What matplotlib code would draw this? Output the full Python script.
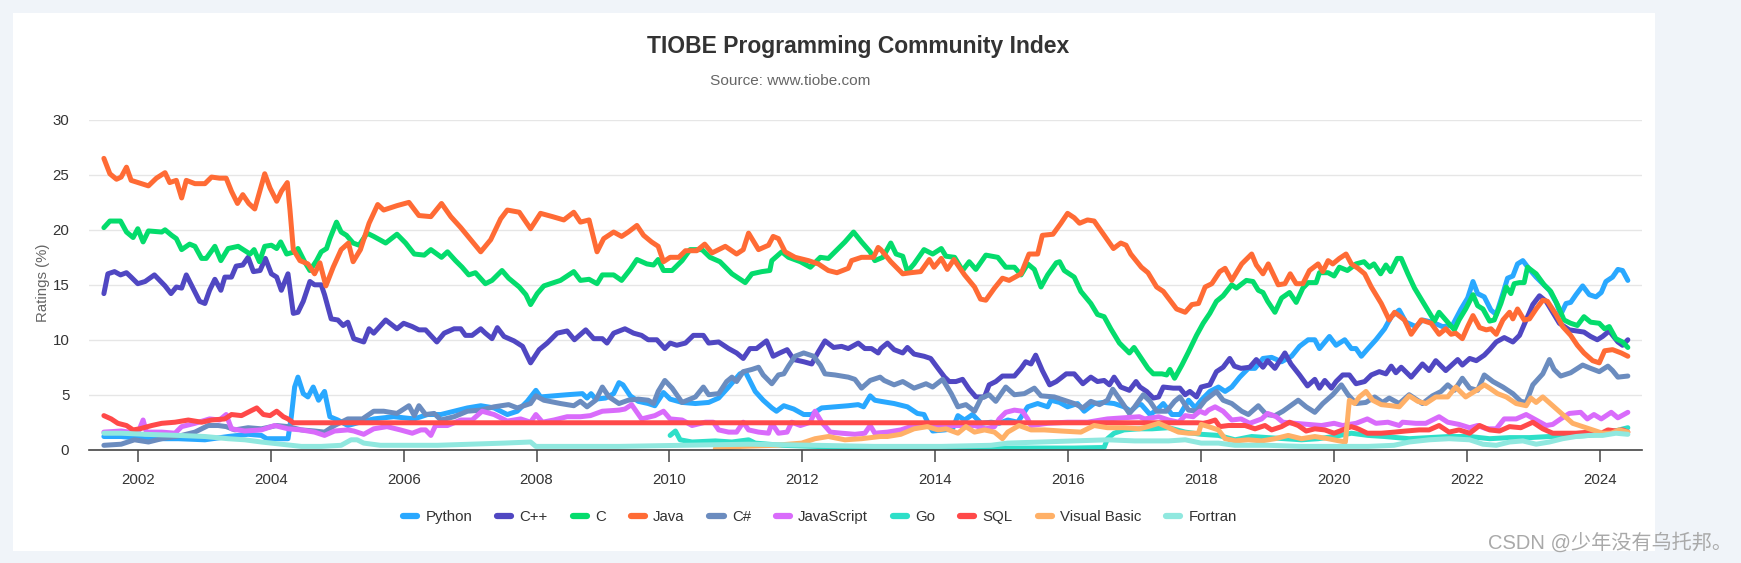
import matplotlib
matplotlib.use("Agg")
import matplotlib.pyplot as plt
from matplotlib.patches import Rectangle
from matplotlib.lines import Line2D

plt.rcParams['font.family'] = ['Liberation Sans', 'Noto Sans CJK SC', 'DejaVu Sans']

# ---------------- data (year, rating %) ----------------
series_names = ["Python", "C++", "C", "Java", "C#", "JavaScript", "Go", "SQL", "Visual Basic", "Fortran"]
series_colors = ["#29a8ff", "#5047c2", "#04dc6c", "#ff6b35", "#6b8cbf", "#d96bfb", "#2edfc8", "#ff4949", "#ffb067", "#90e8df"]

python = [(2001.49,1.2),(2001.75,1.2),(2002.11,1.0),(2002.61,1.0),(2003.01,0.9),(2003.36,1.2),(2003.66,1.4),(2003.86,1.3),(2003.94,1.0),(2004.26,1.0),(2004.31,3.0),(2004.36,5.7),(2004.41,6.6),(2004.49,5.1),(2004.56,4.8),(2004.64,5.7),(2004.72,4.5),(2004.81,5.3),(2004.89,3.0),(2005.01,2.7),(2005.16,2.2),(2005.34,2.5),(2005.55,2.8),(2005.85,3.0),(2006.16,2.8),(2006.36,3.2),(2006.56,3.2),(2006.76,3.5),(2006.96,3.8),(2007.16,4.0),(2007.36,3.8),(2007.56,3.2),(2007.71,3.5),(2007.86,4.4),(2007.99,5.4),(2008.06,4.8),(2008.26,4.9),(2008.46,5.0),(2008.69,5.1),(2008.76,4.7),(2008.82,5.1),(2008.89,4.6),(2009.04,4.7),(2009.16,5.1),(2009.24,6.1),(2009.30,5.9),(2009.41,4.9),(2009.53,4.4),(2009.68,4.2),(2009.78,4.0),(2009.91,5.2),(2010.01,4.6),(2010.19,4.3),(2010.39,4.2),(2010.59,4.3),(2010.74,4.7),(2010.89,5.7),(2011.06,6.9),(2011.14,7.1),(2011.19,6.5),(2011.29,5.3),(2011.41,4.5),(2011.54,3.8),(2011.61,3.5),(2011.72,4.0),(2011.87,3.7),(2012.02,3.2),(2012.14,3.2),(2012.29,3.8),(2012.49,3.9),(2012.69,4.0),(2012.84,4.1),(2012.92,3.9),(2013.02,4.9),(2013.09,4.5),(2013.18,4.4),(2013.38,4.2),(2013.58,3.9),(2013.73,3.3),(2013.83,3.2),(2013.91,2.2),(2013.96,1.7),(2014.14,1.8),(2014.26,1.9),(2014.34,3.1),(2014.44,2.7),(2014.56,3.2),(2014.69,2.4),(2014.84,2.5),(2014.96,2.4),(2015.09,2.7),(2015.24,2.5),(2015.39,3.9),(2015.54,4.2),(2015.69,3.9),(2015.74,4.5),(2015.87,4.3),(2015.99,3.9),(2016.14,4.2),(2016.24,3.5),(2016.39,4.2),(2016.54,4.3),(2016.69,4.2),(2016.84,3.9),(2016.94,3.5),(2017.05,4.1),(2017.10,4.1),(2017.23,3.2),(2017.33,3.6),(2017.43,4.2),(2017.56,3.2),(2017.68,3.2),(2017.81,4.5),(2017.91,3.8),(2018.00,4.5),(2018.13,5.3),(2018.26,5.7),(2018.36,5.3),(2018.46,5.7),(2018.58,6.6),(2018.71,7.4),(2018.81,7.4),(2018.93,8.3),(2019.06,8.4),(2019.21,8.0),(2019.36,8.5),(2019.48,9.4),(2019.61,10.0),(2019.71,10.0),(2019.78,9.2),(2019.93,10.3),(2020.03,9.5),(2020.16,10.0),(2020.26,9.2),(2020.33,9.2),(2020.41,8.5),(2020.51,9.2),(2020.63,10.0),(2020.76,11.0),(2020.86,12.1),(2020.98,12.7),(2021.08,11.6),(2021.23,11.2),(2021.33,11.8),(2021.48,11.6),(2021.63,11.2),(2021.78,11.3),(2021.91,12.8),(2022.01,13.8),(2022.09,15.3),(2022.16,14.2),(2022.26,13.9),(2022.36,12.7),(2022.44,12.3),(2022.54,14.2),(2022.61,15.6),(2022.69,15.8),(2022.76,16.9),(2022.84,17.2),(2022.94,16.4),(2023.04,15.7),(2023.14,15.1),(2023.24,14.5),(2023.34,13.4),(2023.41,12.3),(2023.49,13.3),(2023.56,13.4),(2023.64,14.1),(2023.74,14.9),(2023.84,14.1),(2023.94,13.9),(2024.02,14.3),(2024.09,15.3),(2024.19,15.7),(2024.27,16.4),(2024.34,16.3),(2024.42,15.4)]

cpp = [(2001.49,14.2),(2001.55,16.0),(2001.65,16.2),(2001.74,15.9),(2001.83,16.1),(2001.90,15.7),(2002.00,15.1),(2002.11,15.3),(2002.25,15.9),(2002.33,15.4),(2002.41,14.9),(2002.50,14.2),(2002.58,14.8),(2002.66,14.7),(2002.73,15.9),(2002.83,14.7),(2002.93,13.5),(2003.01,13.3),(2003.08,14.5),(2003.16,15.5),(2003.25,14.5),(2003.31,15.7),(2003.41,15.7),(2003.48,16.7),(2003.58,16.8),(2003.66,17.5),(2003.74,16.2),(2003.84,16.3),(2003.92,17.4),(2004.01,16.0),(2004.09,15.7),(2004.16,14.5),(2004.26,16.0),(2004.34,12.4),(2004.41,12.5),(2004.49,13.5),(2004.59,15.3),(2004.66,15.0),(2004.76,15.0),(2004.81,14.1),(2004.91,11.9),(2005.01,11.8),(2005.09,11.3),(2005.16,11.6),(2005.25,10.1),(2005.40,9.8),(2005.48,11.0),(2005.55,10.6),(2005.73,11.8),(2005.90,11.0),(2006.00,11.5),(2006.13,11.2),(2006.23,10.9),(2006.33,10.9),(2006.50,9.8),(2006.61,10.6),(2006.76,11.0),(2006.86,11.0),(2006.93,10.4),(2007.03,10.4),(2007.16,11.0),(2007.23,10.6),(2007.33,10.1),(2007.41,11.1),(2007.51,10.3),(2007.66,9.9),(2007.79,9.4),(2007.91,7.9),(2008.04,9.1),(2008.16,9.7),(2008.31,10.6),(2008.46,10.8),(2008.57,10.0),(2008.74,10.9),(2008.86,10.1),(2008.99,10.1),(2009.06,9.7),(2009.16,10.6),(2009.33,11.0),(2009.46,10.6),(2009.58,10.4),(2009.68,10.0),(2009.81,10.0),(2009.93,9.2),(2010.01,9.7),(2010.11,9.5),(2010.24,9.7),(2010.36,10.4),(2010.51,10.4),(2010.59,9.7),(2010.74,9.8),(2010.89,9.2),(2011.01,8.8),(2011.11,8.3),(2011.21,9.2),(2011.31,9.2),(2011.46,9.9),(2011.56,8.5),(2011.66,8.8),(2011.77,9.1),(2011.87,8.2),(2012.02,8.0),(2012.14,7.8),(2012.24,8.9),(2012.34,9.9),(2012.47,9.3),(2012.59,9.4),(2012.69,9.2),(2012.84,9.7),(2012.94,9.2),(2013.04,9.2),(2013.14,8.8),(2013.18,9.2),(2013.28,9.7),(2013.38,9.1),(2013.51,8.8),(2013.58,9.3),(2013.68,8.7),(2013.83,8.5),(2013.93,8.3),(2014.04,7.4),(2014.14,6.6),(2014.21,6.2),(2014.31,6.2),(2014.41,6.4),(2014.51,5.5),(2014.61,4.8),(2014.74,4.8),(2014.81,5.9),(2014.91,6.2),(2015.01,6.7),(2015.19,6.7),(2015.29,7.4),(2015.36,8.0),(2015.44,7.8),(2015.51,8.6),(2015.61,7.2),(2015.72,5.9),(2015.82,6.2),(2015.97,6.9),(2016.09,6.9),(2016.22,6.0),(2016.34,6.6),(2016.44,6.2),(2016.54,6.3),(2016.62,5.9),(2016.69,6.6),(2016.79,5.7),(2016.92,5.4),(2017.02,6.2),(2017.08,5.7),(2017.18,5.3),(2017.28,4.7),(2017.36,4.8),(2017.43,5.7),(2017.58,5.6),(2017.68,5.6),(2017.76,5.0),(2017.83,5.3),(2017.93,4.8),(2018.00,5.7),(2018.13,5.9),(2018.23,7.1),(2018.33,7.5),(2018.43,8.3),(2018.50,7.6),(2018.60,7.4),(2018.73,7.5),(2018.83,8.2),(2018.93,7.5),(2019.00,8.1),(2019.11,7.4),(2019.26,8.8),(2019.35,7.8),(2019.48,6.8),(2019.60,5.8),(2019.71,6.4),(2019.78,5.6),(2019.86,6.3),(2019.96,5.6),(2020.03,6.2),(2020.13,6.8),(2020.23,6.8),(2020.33,6.0),(2020.46,6.2),(2020.56,6.8),(2020.68,7.1),(2020.78,6.9),(2020.86,7.6),(2020.93,7.0),(2021.01,7.5),(2021.16,6.6),(2021.33,7.8),(2021.43,7.2),(2021.53,8.1),(2021.68,7.2),(2021.86,8.2),(2021.93,7.7),(2022.04,8.3),(2022.14,8.1),(2022.26,8.6),(2022.34,9.1),(2022.44,9.8),(2022.56,10.2),(2022.69,9.8),(2022.79,10.4),(2022.89,11.8),(2022.99,13.2),(2023.09,14.0),(2023.19,13.5),(2023.29,12.5),(2023.39,11.5),(2023.54,10.9),(2023.76,10.7),(2023.86,10.3),(2023.96,10.0),(2024.04,10.3),(2024.14,10.8),(2024.27,9.8),(2024.34,9.5),(2024.42,10.0)]

c_lang = [(2001.49,20.2),(2001.58,20.8),(2001.74,20.8),(2001.83,19.8),(2001.93,19.3),(2002.00,20.1),(2002.08,18.9),(2002.16,19.9),(2002.36,19.8),(2002.41,20.0),(2002.51,19.5),(2002.58,19.2),(2002.66,18.2),(2002.78,18.7),(2002.86,18.5),(2002.96,17.4),(2003.03,17.4),(2003.16,18.5),(2003.25,17.2),(2003.36,18.3),(2003.51,18.5),(2003.69,17.8),(2003.75,18.2),(2003.83,17.1),(2003.91,18.5),(2004.01,18.6),(2004.09,18.3),(2004.15,18.9),(2004.24,17.8),(2004.36,18.0),(2004.41,18.3),(2004.51,17.1),(2004.59,16.3),(2004.69,17.2),(2004.76,18.0),(2004.84,18.3),(2004.89,19.2),(2004.99,20.7),(2005.06,19.8),(2005.14,19.5),(2005.24,18.8),(2005.33,18.6),(2005.45,19.7),(2005.55,19.4),(2005.73,18.8),(2005.90,19.6),(2006.03,18.8),(2006.16,17.8),(2006.31,17.7),(2006.41,18.2),(2006.57,17.5),(2006.66,18.0),(2006.78,17.2),(2006.88,16.6),(2006.98,15.9),(2007.08,16.1),(2007.23,15.1),(2007.33,15.4),(2007.48,16.3),(2007.58,15.6),(2007.74,14.8),(2007.84,14.1),(2007.91,13.2),(2008.01,14.2),(2008.11,14.9),(2008.36,15.4),(2008.56,16.2),(2008.66,15.4),(2008.79,15.5),(2008.91,15.1),(2008.99,15.9),(2009.16,15.9),(2009.28,15.4),(2009.41,16.4),(2009.51,17.3),(2009.66,16.9),(2009.76,16.8),(2009.83,17.3),(2009.91,16.3),(2010.04,16.3),(2010.19,17.2),(2010.31,18.2),(2010.49,18.2),(2010.61,17.5),(2010.76,17.1),(2010.94,16.0),(2011.04,15.6),(2011.14,15.2),(2011.24,16.0),(2011.39,16.2),(2011.51,16.3),(2011.54,17.2),(2011.69,18.0),(2011.79,17.5),(2011.97,17.1),(2012.12,16.6),(2012.27,17.5),(2012.39,17.4),(2012.49,18.0),(2012.64,18.9),(2012.77,19.8),(2012.89,18.9),(2013.02,18.0),(2013.09,17.2),(2013.21,17.5),(2013.33,18.8),(2013.41,17.8),(2013.51,17.6),(2013.58,16.2),(2013.68,16.9),(2013.83,18.2),(2013.96,17.8),(2014.09,18.3),(2014.16,17.6),(2014.29,17.5),(2014.41,16.3),(2014.51,17.1),(2014.61,16.4),(2014.76,17.7),(2014.94,17.5),(2015.06,16.6),(2015.19,16.6),(2015.29,15.9),(2015.39,16.9),(2015.49,16.4),(2015.59,14.8),(2015.69,15.9),(2015.82,17.0),(2015.87,17.1),(2015.94,16.3),(2016.09,15.7),(2016.19,14.4),(2016.34,13.3),(2016.44,12.3),(2016.54,12.1),(2016.64,11.0),(2016.77,9.7),(2016.92,8.8),(2016.99,9.3),(2017.10,8.3),(2017.20,7.4),(2017.28,6.9),(2017.41,6.9),(2017.48,6.8),(2017.53,7.3),(2017.60,6.5),(2017.71,7.7),(2017.81,8.9),(2017.93,10.4),(2018.03,11.5),(2018.13,12.4),(2018.23,13.5),(2018.33,14.0),(2018.46,15.0),(2018.53,14.7),(2018.68,15.4),(2018.78,15.3),(2018.86,14.5),(2018.93,14.3),(2019.00,13.5),(2019.11,12.5),(2019.21,13.8),(2019.33,14.3),(2019.43,13.4),(2019.53,14.7),(2019.61,15.2),(2019.73,15.2),(2019.78,16.1),(2019.91,16.1),(2020.00,15.8),(2020.08,16.6),(2020.20,16.3),(2020.33,16.9),(2020.45,17.1),(2020.53,16.6),(2020.60,16.9),(2020.70,16.0),(2020.78,16.8),(2020.85,16.2),(2020.95,17.4),(2021.01,17.4),(2021.11,16.0),(2021.21,14.7),(2021.33,13.5),(2021.46,12.2),(2021.51,11.7),(2021.58,12.5),(2021.68,11.8),(2021.81,10.9),(2021.88,11.8),(2021.98,12.8),(2022.09,14.1),(2022.16,13.1),(2022.24,12.8),(2022.34,11.7),(2022.41,11.8),(2022.51,13.3),(2022.59,14.8),(2022.66,14.2),(2022.71,15.1),(2022.79,15.2),(2022.86,15.2),(2022.91,16.6),(2023.04,16.0),(2023.16,15.0),(2023.26,14.4),(2023.36,13.2),(2023.46,11.8),(2023.56,11.5),(2023.66,11.3),(2023.76,12.1),(2023.86,11.6),(2023.99,11.5),(2024.07,11.0),(2024.14,11.2),(2024.24,10.1),(2024.34,9.8),(2024.42,9.3)]

java = [(2001.49,26.5),(2001.58,25.1),(2001.68,24.6),(2001.75,24.8),(2001.83,25.7),(2001.90,24.5),(2002.16,24.0),(2002.28,24.7),(2002.41,25.2),(2002.48,24.3),(2002.58,24.5),(2002.66,22.9),(2002.73,24.5),(2002.86,24.2),(2003.01,24.2),(2003.11,24.8),(2003.23,24.7),(2003.33,24.7),(2003.41,23.5),(2003.50,22.4),(2003.58,23.2),(2003.67,22.4),(2003.76,21.9),(2003.84,23.6),(2003.91,25.1),(2003.99,23.8),(2004.09,22.6),(2004.16,23.5),(2004.25,24.3),(2004.29,21.8),(2004.34,18.2),(2004.44,17.2),(2004.56,16.9),(2004.66,16.0),(2004.74,17.0),(2004.83,14.9),(2004.94,16.6),(2005.06,18.2),(2005.17,18.8),(2005.24,17.1),(2005.35,18.2),(2005.48,20.6),(2005.61,22.3),(2005.70,21.8),(2005.90,22.2),(2006.08,22.5),(2006.23,21.3),(2006.41,21.2),(2006.57,22.4),(2006.71,21.2),(2006.86,20.2),(2007.01,19.1),(2007.16,18.0),(2007.31,19.1),(2007.46,21.0),(2007.56,21.8),(2007.74,21.6),(2007.91,20.1),(2008.06,21.5),(2008.24,21.2),(2008.41,20.9),(2008.56,21.6),(2008.66,20.7),(2008.79,20.9),(2008.91,18.0),(2009.01,19.2),(2009.16,19.8),(2009.28,19.4),(2009.38,19.8),(2009.51,20.4),(2009.61,19.5),(2009.73,18.9),(2009.83,18.5),(2009.91,17.1),(2010.01,17.5),(2010.14,17.5),(2010.24,18.1),(2010.41,18.1),(2010.53,18.7),(2010.64,17.9),(2010.84,18.5),(2011.01,17.8),(2011.11,18.2),(2011.19,19.7),(2011.34,18.2),(2011.49,18.6),(2011.56,19.4),(2011.64,19.2),(2011.74,18.0),(2011.89,17.5),(2012.09,17.2),(2012.24,16.9),(2012.39,16.3),(2012.52,16.1),(2012.69,16.5),(2012.74,17.2),(2012.89,17.5),(2013.07,17.5),(2013.14,18.4),(2013.18,18.2),(2013.33,17.1),(2013.51,16.0),(2013.63,16.1),(2013.78,16.2),(2013.91,17.3),(2013.98,16.6),(2014.09,17.4),(2014.18,16.4),(2014.28,17.3),(2014.44,15.9),(2014.59,14.8),(2014.68,13.7),(2014.76,13.6),(2014.89,14.7),(2015.01,15.6),(2015.11,15.4),(2015.29,16.0),(2015.41,17.8),(2015.54,17.8),(2015.61,19.5),(2015.77,19.6),(2015.89,20.6),(2015.99,21.5),(2016.09,21.1),(2016.17,20.6),(2016.29,20.9),(2016.39,20.8),(2016.54,19.5),(2016.68,18.3),(2016.79,18.8),(2016.87,18.6),(2016.94,17.8),(2017.10,16.6),(2017.20,16.1),(2017.33,14.8),(2017.43,14.4),(2017.53,13.6),(2017.63,12.8),(2017.76,12.5),(2017.86,13.2),(2017.96,13.3),(2018.06,14.8),(2018.16,15.1),(2018.28,16.2),(2018.36,16.5),(2018.46,15.4),(2018.61,16.9),(2018.76,17.8),(2018.83,16.8),(2018.93,16.0),(2019.01,16.9),(2019.16,15.0),(2019.26,15.1),(2019.34,16.0),(2019.43,15.1),(2019.53,15.1),(2019.63,16.3),(2019.76,16.9),(2019.83,16.2),(2019.91,17.2),(2019.98,16.9),(2020.08,17.4),(2020.18,17.8),(2020.26,16.9),(2020.36,16.5),(2020.46,16.0),(2020.56,14.8),(2020.71,13.3),(2020.83,11.8),(2020.91,12.5),(2021.06,11.8),(2021.16,10.5),(2021.31,11.8),(2021.46,11.5),(2021.58,10.5),(2021.68,11.0),(2021.76,10.5),(2021.83,10.6),(2021.93,10.1),(2022.01,11.2),(2022.09,12.2),(2022.19,11.1),(2022.29,10.9),(2022.36,11.0),(2022.44,10.5),(2022.54,11.8),(2022.64,12.5),(2022.69,11.9),(2022.76,12.8),(2022.86,11.8),(2022.94,11.9),(2023.04,12.8),(2023.14,13.6),(2023.21,13.5),(2023.34,12.3),(2023.44,11.2),(2023.56,10.4),(2023.66,9.5),(2023.76,8.8),(2023.89,8.1),(2023.99,7.9),(2024.07,9.0),(2024.19,9.1),(2024.32,8.8),(2024.42,8.5)]

csharp = [(2001.49,0.4),(2001.75,0.5),(2001.95,0.9),(2002.16,0.7),(2002.36,1.0),(2002.66,1.3),(2002.86,1.6),(2003.06,2.2),(2003.21,2.2),(2003.33,2.1),(2003.46,1.8),(2003.66,2.0),(2003.86,1.9),(2004.09,2.2),(2004.26,2.1),(2004.46,1.8),(2004.66,1.7),(2004.81,1.6),(2004.96,2.2),(2005.16,2.8),(2005.38,2.8),(2005.55,3.5),(2005.70,3.5),(2005.90,3.3),(2006.08,4.0),(2006.16,3.1),(2006.23,4.0),(2006.33,3.2),(2006.46,3.3),(2006.56,2.7),(2006.76,3.0),(2006.96,3.5),(2007.16,3.6),(2007.36,3.9),(2007.58,4.1),(2007.71,3.8),(2007.91,4.2),(2007.99,4.9),(2008.11,4.5),(2008.36,4.2),(2008.56,4.0),(2008.66,4.4),(2008.76,3.9),(2008.89,4.5),(2008.99,5.7),(2009.09,4.8),(2009.24,4.2),(2009.38,4.5),(2009.53,4.6),(2009.68,4.5),(2009.76,4.2),(2009.83,5.3),(2009.93,6.3),(2010.04,5.6),(2010.19,4.3),(2010.39,4.8),(2010.51,5.7),(2010.59,5.0),(2010.74,5.1),(2010.86,6.2),(2010.94,6.6),(2011.01,6.2),(2011.11,7.1),(2011.24,7.3),(2011.34,7.5),(2011.41,6.8),(2011.54,6.0),(2011.64,6.8),(2011.72,6.9),(2011.79,7.6),(2011.89,8.5),(2012.02,8.8),(2012.17,8.5),(2012.27,7.7),(2012.34,6.9),(2012.49,6.8),(2012.69,6.6),(2012.79,6.4),(2012.89,5.6),(2013.02,6.3),(2013.17,6.6),(2013.23,6.3),(2013.38,5.9),(2013.51,6.2),(2013.68,5.6),(2013.86,6.0),(2013.96,5.7),(2014.11,6.4),(2014.24,5.1),(2014.34,3.9),(2014.46,4.1),(2014.59,3.5),(2014.69,4.7),(2014.81,5.0),(2014.91,4.4),(2015.06,5.7),(2015.19,5.0),(2015.34,5.1),(2015.49,5.6),(2015.59,4.9),(2015.79,4.8),(2015.94,4.5),(2016.09,4.2),(2016.22,3.8),(2016.34,4.4),(2016.47,4.1),(2016.59,4.5),(2016.67,5.5),(2016.82,4.2),(2016.92,3.3),(2017.00,3.9),(2017.13,5.0),(2017.23,4.4),(2017.33,3.5),(2017.48,3.5),(2017.60,4.4),(2017.68,4.8),(2017.81,3.6),(2017.93,3.5),(2018.06,4.5),(2018.23,5.3),(2018.33,4.5),(2018.46,4.2),(2018.61,3.5),(2018.71,3.2),(2018.86,4.0),(2018.98,3.2),(2019.11,3.1),(2019.23,3.5),(2019.46,4.5),(2019.58,3.9),(2019.71,3.4),(2019.83,4.2),(2019.98,5.0),(2020.11,5.9),(2020.21,5.0),(2020.33,4.2),(2020.48,4.3),(2020.61,4.8),(2020.73,4.3),(2020.83,4.7),(2020.98,4.2),(2021.13,5.0),(2021.33,4.2),(2021.48,4.9),(2021.61,5.3),(2021.71,5.9),(2021.81,5.4),(2021.93,6.5),(2022.04,5.6),(2022.16,5.4),(2022.26,6.8),(2022.39,6.2),(2022.54,5.7),(2022.69,5.1),(2022.81,4.4),(2022.89,4.3),(2022.99,5.9),(2023.14,6.9),(2023.24,8.2),(2023.31,7.3),(2023.41,6.7),(2023.56,7.0),(2023.74,7.7),(2023.86,7.4),(2023.99,7.1),(2024.12,7.6),(2024.19,7.2),(2024.27,6.6),(2024.42,6.7)]

javascript = [(2001.49,1.6),(2001.75,1.7),(2002.00,1.5),(2002.08,2.7),(2002.13,1.6),(2002.36,1.6),(2002.56,1.5),(2002.66,2.1),(2002.86,2.4),(2003.08,2.8),(2003.23,2.7),(2003.33,3.2),(2003.41,1.9),(2003.61,1.7),(2003.86,1.8),(2004.06,2.2),(2004.26,1.9),(2004.46,1.8),(2004.66,1.6),(2004.81,1.3),(2004.96,1.7),(2005.16,1.8),(2005.25,1.7),(2005.40,1.4),(2005.55,1.9),(2005.75,2.1),(2005.95,1.8),(2006.13,1.5),(2006.26,1.8),(2006.33,1.8),(2006.41,1.3),(2006.48,2.2),(2006.66,2.2),(2006.86,2.7),(2007.03,2.7),(2007.18,3.5),(2007.36,3.2),(2007.56,2.6),(2007.76,2.8),(2007.91,2.5),(2007.99,3.2),(2008.09,2.5),(2008.26,2.7),(2008.46,3.0),(2008.66,3.0),(2008.81,3.1),(2008.99,3.5),(2009.24,3.6),(2009.33,3.7),(2009.43,4.1),(2009.58,2.8),(2009.78,3.1),(2009.91,3.5),(2010.01,2.8),(2010.19,2.7),(2010.34,2.2),(2010.54,2.5),(2010.66,2.5),(2010.74,1.8),(2010.89,1.6),(2011.01,1.6),(2011.11,2.5),(2011.19,1.8),(2011.34,1.6),(2011.49,1.5),(2011.54,2.4),(2011.64,1.5),(2011.77,1.6),(2011.84,2.5),(2011.97,2.2),(2012.12,2.5),(2012.19,3.5),(2012.29,2.5),(2012.42,1.6),(2012.59,1.5),(2012.79,1.4),(2012.94,1.5),(2013.02,2.2),(2013.09,1.5),(2013.28,1.6),(2013.48,1.8),(2013.68,2.2),(2013.88,2.2),(2014.09,2.2),(2014.34,2.2),(2014.59,2.2),(2014.76,1.9),(2014.89,2.1),(2014.96,2.8),(2015.06,3.4),(2015.19,3.6),(2015.31,3.5),(2015.39,2.8),(2015.44,2.2),(2015.69,2.4),(2015.99,2.5),(2016.29,2.5),(2016.59,2.8),(2016.84,2.9),(2017.07,3.0),(2017.15,2.8),(2017.36,3.0),(2017.51,2.7),(2017.66,2.5),(2017.76,3.1),(2017.88,3.0),(2017.98,3.5),(2018.06,3.3),(2018.11,3.6),(2018.21,3.9),(2018.33,3.5),(2018.46,2.7),(2018.60,2.8),(2018.73,2.4),(2018.91,2.8),(2019.00,3.3),(2019.13,3.0),(2019.23,2.5),(2019.41,2.4),(2019.61,2.3),(2019.81,2.2),(2020.00,2.4),(2020.13,2.2),(2020.33,2.4),(2020.50,2.8),(2020.63,2.4),(2020.81,2.5),(2020.98,2.2),(2021.03,2.5),(2021.23,2.4),(2021.38,2.4),(2021.58,3.0),(2021.71,2.5),(2021.88,2.3),(2022.04,2.0),(2022.16,2.2),(2022.29,1.9),(2022.44,1.9),(2022.56,2.8),(2022.74,2.8),(2022.89,3.2),(2023.04,2.7),(2023.19,2.2),(2023.29,2.3),(2023.41,2.8),(2023.54,3.3),(2023.71,3.4),(2023.81,2.8),(2023.91,3.2),(2024.02,2.8),(2024.17,3.4),(2024.27,2.9),(2024.42,3.4)]

go_lang = [(2010.01,1.3),(2010.09,1.7),(2010.16,0.9),(2010.34,0.7),(2010.69,0.8),(2010.94,0.7),(2011.19,0.9),(2011.29,0.6),(2011.69,0.4),(2012.19,0.3),(2012.69,0.2),(2013.17,0.2),(2014.09,0.15),(2015.09,0.15),(2016.09,0.15),(2016.54,0.2),(2016.59,1.0),(2016.69,1.5),(2016.84,1.8),(2017.07,1.9),(2017.26,1.9),(2017.51,2.0),(2017.76,1.6),(2018.00,1.4),(2018.26,1.3),(2018.51,0.9),(2018.76,1.2),(2019.00,1.1),(2019.26,1.0),(2019.51,0.9),(2019.76,1.0),(2020.00,1.2),(2020.26,1.5),(2020.51,1.3),(2020.76,1.2),(2021.13,1.0),(2021.43,1.1),(2021.73,1.2),(2022.04,1.2),(2022.34,1.0),(2022.64,1.1),(2022.94,1.1),(2023.24,1.2),(2023.54,1.2),(2023.84,1.3),(2024.09,1.5),(2024.29,1.8),(2024.42,2.0)]

sql = [(2001.49,3.1),(2001.60,2.8),(2001.70,2.4),(2001.83,2.2),(2001.93,1.8),(2002.03,1.9),(2002.21,2.2),(2002.36,2.4),(2002.56,2.5),(2002.76,2.7),(2002.96,2.5),(2003.11,2.7),(2003.31,2.8),(2003.41,3.2),(2003.56,3.1),(2003.69,3.5),(2003.79,3.8),(2003.89,3.2),(2003.99,3.1),(2004.09,3.5),(2004.19,3.0),(2004.26,2.8),(2004.34,2.45),(2017.95,2.45),(2018.03,2.4),(2018.11,2.5),(2018.21,2.7),(2018.28,2.1),(2018.41,2.2),(2018.50,2.2),(2018.66,2.2),(2018.81,1.9),(2018.96,2.2),(2019.06,1.8),(2019.21,2.1),(2019.33,2.5),(2019.46,2.2),(2019.58,1.7),(2019.71,1.9),(2019.86,1.8),(2020.00,1.5),(2020.13,1.8),(2020.26,2.1),(2020.36,1.9),(2020.50,1.5),(2020.71,1.5),(2020.91,1.6),(2021.08,1.7),(2021.28,1.8),(2021.43,1.8),(2021.58,2.2),(2021.73,1.6),(2021.88,1.8),(2022.04,1.5),(2022.19,2.2),(2022.34,1.8),(2022.49,1.7),(2022.64,2.1),(2022.81,2.0),(2022.99,2.5),(2023.14,1.9),(2023.29,1.5),(2023.44,1.5),(2023.64,1.5),(2023.84,1.6),(2023.99,1.4),(2024.12,1.8),(2024.24,1.7),(2024.34,1.8),(2024.42,1.6)]

visual_basic = [(2010.69,0.1),(2011.09,0.3),(2011.59,0.4),(2011.99,0.6),(2012.19,1.0),(2012.39,1.2),(2012.64,0.9),(2012.89,1.0),(2013.17,1.2),(2013.28,1.2),(2013.48,1.4),(2013.68,1.9),(2013.88,2.1),(2014.04,1.8),(2014.16,1.9),(2014.34,1.5),(2014.46,2.1),(2014.59,1.6),(2014.74,1.8),(2014.89,1.6),(2015.01,1.0),(2015.09,1.6),(2015.26,2.2),(2015.44,1.8),(2015.64,1.8),(2015.89,1.7),(2016.19,1.6),(2016.39,2.2),(2016.59,2.0),(2016.84,2.0),(2017.07,1.9),(2017.20,2.1),(2017.36,2.4),(2017.51,2.0),(2017.66,1.6),(2017.81,1.5),(2017.96,1.5),(2018.00,2.3),(2018.11,2.1),(2018.26,1.8),(2018.36,1.0),(2018.51,0.8),(2018.71,0.9),(2018.91,0.8),(2019.11,1.0),(2019.31,1.3),(2019.51,1.0),(2019.71,1.2),(2019.91,1.0),(2020.08,0.8),(2020.17,0.7),(2020.23,4.5),(2020.31,4.2),(2020.38,4.8),(2020.48,5.3),(2020.58,4.5),(2020.71,4.1),(2020.86,4.0),(2020.98,3.9),(2021.13,4.9),(2021.26,4.4),(2021.38,4.2),(2021.53,4.8),(2021.71,4.8),(2021.83,5.7),(2021.98,4.8),(2022.14,5.4),(2022.26,5.9),(2022.34,5.6),(2022.46,5.1),(2022.59,4.8),(2022.74,4.2),(2022.89,4.0),(2022.96,4.7),(2023.04,4.3),(2023.14,4.8),(2023.29,4.0),(2023.44,3.2),(2023.59,2.4),(2023.74,2.1),(2023.89,1.8),(2024.04,1.5),(2024.17,1.5),(2024.29,1.8),(2024.42,1.6)]

fortran = [(2001.49,1.5),(2001.75,1.5),(2002.11,1.4),(2002.61,1.3),(2003.01,1.2),(2003.36,1.0),(2003.61,0.9),(2003.86,0.7),(2004.16,0.5),(2004.46,0.3),(2004.76,0.3),(2005.06,0.4),(2005.21,0.9),(2005.30,0.9),(2005.40,0.6),(2005.65,0.4),(2006.00,0.4),(2006.51,0.4),(2007.01,0.5),(2007.51,0.6),(2007.91,0.7),(2007.99,0.3),(2008.51,0.3),(2009.24,0.3),(2010.19,0.4),(2011.19,0.5),(2012.19,0.4),(2013.08,0.3),(2014.09,0.3),(2014.84,0.4),(2015.09,0.6),(2015.59,0.7),(2016.09,0.8),(2016.59,0.9),(2017.00,0.8),(2017.51,0.8),(2017.76,0.9),(2018.00,0.6),(2018.26,0.6),(2018.51,0.4),(2019.00,0.4),(2019.51,0.3),(2020.00,0.3),(2020.51,0.3),(2020.90,0.4),(2021.13,0.7),(2021.43,0.9),(2021.73,1.0),(2022.04,0.9),(2022.24,0.5),(2022.44,0.4),(2022.64,0.7),(2022.84,0.8),(2023.04,0.5),(2023.24,0.7),(2023.44,1.0),(2023.64,1.2),(2023.84,1.3),(2024.04,1.3),(2024.24,1.5),(2024.42,1.4)]

all_series = [python, cpp, c_lang, java, csharp, javascript, go_lang, sql, visual_basic, fortran]

x_ticks = [2002, 2004, 2006, 2008, 2010, 2012, 2014, 2016, 2018, 2020, 2022, 2024]
y_ticks = [0, 5, 10, 15, 20, 25, 30]

title_text = "TIOBE Programming Community Index"
subtitle_text = "Source: www.tiobe.com"
y_label = "Ratings (%)"
watermark = "CSDN @少年没有乌托邦。"

# ---------------- figure ----------------
W, H = 1741, 563
fig = plt.figure(figsize=(W / 100, H / 100), dpi=100)
fig.patch.set_facecolor("#f0f4f9")
card = Rectangle((13 / W, 1 - 551 / H), (1655 - 13) / W, (551 - 13) / H,
                 transform=fig.transFigure, facecolor="white", edgecolor="none", zorder=-10)
fig.patches.append(card)

ax = fig.add_axes([88.8 / W, 1 - 449.7 / H, (1642 - 88.8) / W, (449.7 - 119.9) / H])
ax.set_facecolor("none")
ax.set_zorder(2)

for i, (data, color) in enumerate(zip(all_series, series_colors)):
    xs = [p[0] for p in data]
    ys = [p[1] for p in data]
    ax.plot(xs, ys, color=color, lw=3.6, solid_joinstyle="round",
            solid_capstyle="round", zorder=3 + i)

ax.set_xlim(2001.263, 2024.633)
ax.set_ylim(0, 30)
ax.set_xticks(x_ticks)
ax.set_xticklabels([str(t) for t in x_ticks])
ax.set_yticks(y_ticks)
ax.set_yticklabels([str(t) for t in y_ticks])

ax.grid(axis="y", color="#e6e6e6", lw=1.0, zorder=1)
ax.set_axisbelow(True)
for s in ["top", "right", "left"]:
    ax.spines[s].set_visible(False)
ax.spines["bottom"].set_color("#444444")
ax.spines["bottom"].set_linewidth(1.2)
ax.spines["bottom"].set_zorder(20)

ax.tick_params(axis="x", length=8.5, width=1.2, color="#555555", pad=8,
               labelsize=10.8, labelcolor="#333333")
ax.tick_params(axis="y", length=0, pad=14, labelsize=10.8, labelcolor="#333333")

fig.text(43 / W, 1 - 283 / H, y_label, rotation=90, ha="center", va="center",
         fontsize=10.8, color="#666666")

fig.text(858 / W, 1 - 53.3 / H, title_text, ha="center", va="baseline",
         fontsize=16.5, fontweight="bold", color="#333333")
fig.text(790 / W, 1 - 85 / H, subtitle_text, ha="center", va="baseline",
         fontsize=11.1, color="#666666")

handles = [Line2D([0], [0], color=c, lw=4.5, solid_capstyle="round") for c in series_colors]
fig.legend(handles, series_names, loc="center", bbox_to_anchor=(0.471, 1 - 517 / H),
           ncol=10, frameon=False, fontsize=10.8, handlelength=0.95,
           handletextpad=0.55, columnspacing=1.65, labelcolor="#333333")

fig.text(1488 / W, 1 - 542 / H, watermark, ha="left", va="center", fontsize=14.5,
         color="#a9a9a9", family=["Liberation Sans", "Noto Sans CJK SC", "DejaVu Sans"])

fig.savefig("out.png", dpi=100, facecolor=fig.get_facecolor())
